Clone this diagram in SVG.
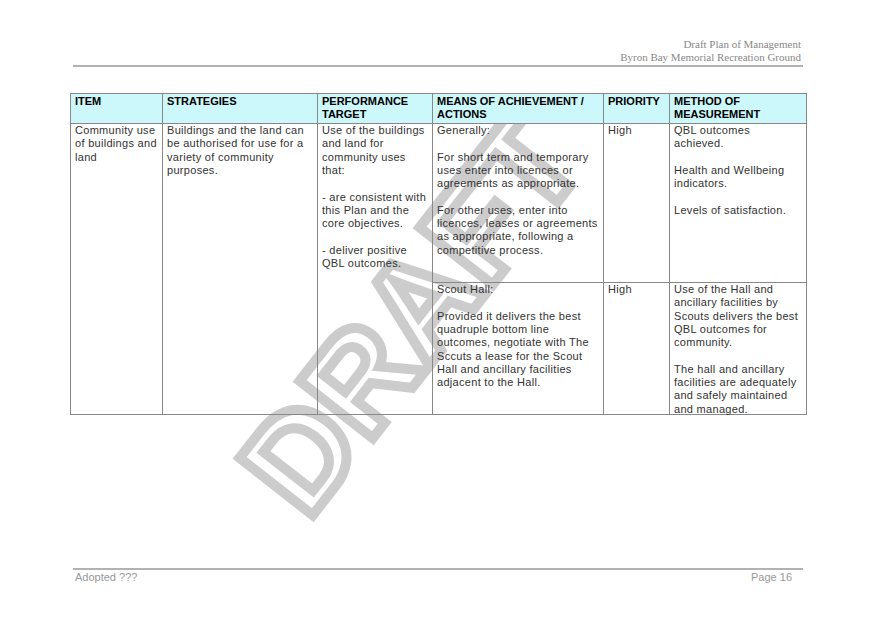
<svg xmlns="http://www.w3.org/2000/svg" width="875" height="619" viewBox="0 0 875 619">
<style>
.t{font-family:"Liberation Sans",Arial,sans-serif;font-size:11px;letter-spacing:0.3px;fill:#333}
.h{font-family:"Liberation Sans",Arial,sans-serif;font-size:11px;font-weight:bold;fill:#000}
.s{font-family:"Liberation Serif",serif;font-size:11px;fill:#888}
.f{font-family:"Liberation Sans",Arial,sans-serif;font-size:11px;fill:#999}
.l{stroke:#888;stroke-width:1;fill:none}
</style>
<rect width="875" height="619" fill="#fff"/>
<g id="header">
<text class="s" x="801" y="48" text-anchor="end">Draft Plan of Management</text>
<text class="s" x="801" y="61" text-anchor="end">Byron Bay Memorial Recreation Ground</text>
<line x1="73" y1="66" x2="803" y2="66" stroke="#999" stroke-width="1.5"/>
</g>
<g id="watermark">
<text x="0" y="0" transform="translate(420,320) rotate(-52)" text-anchor="middle" dominant-baseline="middle" font-family="Liberation Sans,Arial,sans-serif" font-weight="bold" font-size="135" fill="none" stroke="#cccccc" stroke-width="10">DRAFT</text>
</g>
<g id="table">
<rect x="70.5" y="93.5" width="736" height="30" fill="#ccf8fb"/>
<g class="l">
<rect x="70.5" y="93.5" width="736" height="321"/>
<line x1="70.5" y1="123.5" x2="806.5" y2="123.5"/>
<line x1="432.5" y1="282.5" x2="806.5" y2="282.5"/>
<line x1="162.5" y1="93.5" x2="162.5" y2="414.5"/>
<line x1="317.5" y1="93.5" x2="317.5" y2="414.5"/>
<line x1="432.5" y1="93.5" x2="432.5" y2="414.5"/>
<line x1="603.5" y1="93.5" x2="603.5" y2="414.5"/>
<line x1="669.5" y1="93.5" x2="669.5" y2="414.5"/>
</g>
<text class="h" x="75" y="105">ITEM</text>
<text class="h" x="167" y="105">STRATEGIES</text>
<text class="h" x="322" y="105">PERFORMANCE</text>
<text class="h" x="322" y="118">TARGET</text>
<text class="h" x="437" y="105">MEANS OF ACHIEVEMENT /</text>
<text class="h" x="437" y="118">ACTIONS</text>
<text class="h" x="608" y="105">PRIORITY</text>
<text class="h" x="674" y="105">METHOD OF</text>
<text class="h" x="674" y="118">MEASUREMENT</text>
<text class="t" x="75" y="134">Community use<tspan x="75" dy="13.3">of buildings and</tspan><tspan x="75" dy="13.3">land</tspan></text>
<text class="t" x="167" y="134">Buildings and the land can<tspan x="167" dy="13.3">be authorised for use for a</tspan><tspan x="167" dy="13.3">variety of community</tspan><tspan x="167" dy="13.3">purposes.</tspan></text>
<text class="t" x="322" y="134">Use of the buildings<tspan x="322" dy="13.3">and land  for</tspan><tspan x="322" dy="13.3">community uses</tspan><tspan x="322" dy="13.3">that:</tspan><tspan x="322" dy="26.6">- are consistent with</tspan><tspan x="322" dy="13.3">this Plan and the</tspan><tspan x="322" dy="13.3">core objectives.</tspan><tspan x="322" dy="26.6">- deliver positive</tspan><tspan x="322" dy="13.3">QBL outcomes.</tspan></text>
<text class="t" x="437" y="134">Generally:<tspan x="437" dy="26.6">For short term and temporary</tspan><tspan x="437" dy="13.3">uses enter into licences or</tspan><tspan x="437" dy="13.3">agreements as appropriate.</tspan><tspan x="437" dy="26.6">For other uses, enter into</tspan><tspan x="437" dy="13.3">licences, leases or agreements</tspan><tspan x="437" dy="13.3">as appropriate, following a</tspan><tspan x="437" dy="13.3">competitive process.</tspan></text>
<text class="t" x="608" y="134">High</text>
<text class="t" x="674" y="134">QBL outcomes<tspan x="674" dy="13.3">achieved.</tspan><tspan x="674" dy="26.6">Health and Wellbeing</tspan><tspan x="674" dy="13.3">indicators.</tspan><tspan x="674" dy="26.6">Levels of satisfaction.</tspan></text>
<text class="t" x="437" y="293">Scout Hall:<tspan x="437" dy="26.6">Provided it delivers the best</tspan><tspan x="437" dy="13.3">quadruple bottom line</tspan><tspan x="437" dy="13.3">outcomes, negotiate with The</tspan><tspan x="437" dy="13.3">Sccuts a lease for the Scout</tspan><tspan x="437" dy="13.3">Hall and ancillary facilities</tspan><tspan x="437" dy="13.3">adjacent to the Hall.</tspan></text>
<text class="t" x="608" y="293">High</text>
<text class="t" x="674" y="293">Use of the Hall and<tspan x="674" dy="13.3">ancillary facilities by</tspan><tspan x="674" dy="13.3">Scouts delivers the best</tspan><tspan x="674" dy="13.3">QBL outcomes for</tspan><tspan x="674" dy="13.3">community.</tspan><tspan x="674" dy="26.6">The hall and ancillary</tspan><tspan x="674" dy="13.3">facilities are adequately</tspan><tspan x="674" dy="13.3">and safely maintained</tspan><tspan x="674" dy="13.3">and managed.</tspan></text>
</g>
<g id="footer">
<line x1="73" y1="569" x2="803" y2="569" stroke="#999" stroke-width="1.5"/>
<text class="f" x="75" y="581">Adopted ???</text>
<text class="f" x="792" y="581" text-anchor="end">Page 16</text>
</g>
</svg>
